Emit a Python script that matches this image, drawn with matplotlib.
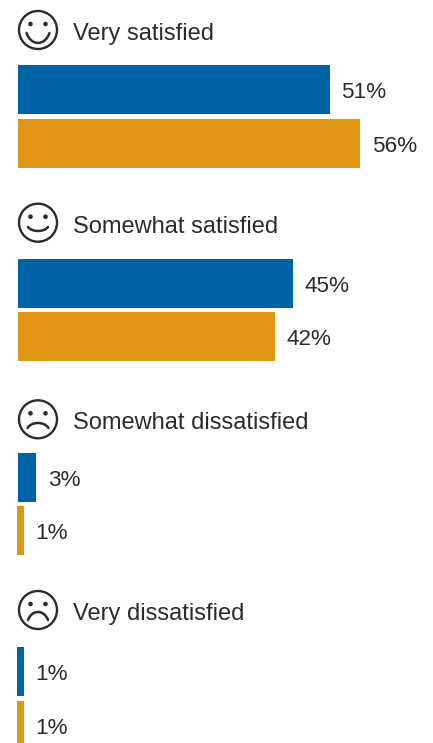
import matplotlib
matplotlib.use("Agg")
import matplotlib.pyplot as plt
from matplotlib.patches import Circle, PathPatch
from matplotlib.path import Path

# ===== DATA =====
categories = ["Very satisfied", "Somewhat satisfied", "Somewhat dissatisfied", "Very dissatisfied"]
series_blue = [51, 45, 3, 1]
series_orange = [56, 42, 1, 1]

BLUE = "#0063a6"
ORANGE = "#e09614"
INK = "#2b2b2b"
W, H = 433, 743
PX_PER_PCT = 6.11
X0 = 18

plt.rcParams["font.family"] = ["Liberation Sans", "DejaVu Sans"]

fig = plt.figure(figsize=(W / 100, H / 100), dpi=100)

# pixel axes for faces and headings
ax_px = fig.add_axes([0, 0, 1, 1])
ax_px.set_xlim(0, W)
ax_px.set_ylim(H, 0)
ax_px.axis("off")

# bar axes, x in percent
ax = fig.add_axes([0, 0, 1, 1], facecolor="none")
ax.set_xlim(-X0 / PX_PER_PCT, (W - X0) / PX_PER_PCT)
ax.set_ylim(H, 0)
ax.axis("off")

face_y = [30, 222.7, 419.3, 610]
text_y = [34, 227, 423, 614]
blue_top = [65, 259, 453, 647]
orange_top = [119, 312, 506, 701]
BAR_H = 49

# mouth shape per face: half width, y of the ends, y of the control points (px from face centre)
mouth_half = [11.5, 10, 10.5, 10]
mouth_end = [3, 4.3, 8.7, 10]
mouth_ctrl = [16.3, 9.6, 2, -0.7]


def draw_face(a, cx, cy, i):
    a.add_patch(Circle((cx, cy), 19, fill=False, ec=INK, lw=1.7))
    for dx in (-7.5, 7.5):
        a.add_patch(Circle((cx + dx, cy - 6), 2.3, fc=INK, ec="none"))
    hw = mouth_half[i]
    verts = [(cx - hw, cy + mouth_end[i]), (cx - 0.6 * hw, cy + mouth_ctrl[i]),
             (cx + 0.6 * hw, cy + mouth_ctrl[i]), (cx + hw, cy + mouth_end[i])]
    path = Path(verts, [Path.MOVETO, Path.CURVE4, Path.CURVE4, Path.CURVE4])
    a.add_patch(PathPatch(path, fc="none", ec=INK, lw=1.8, capstyle="round"))


def bar_label(v, top, color):
    # the 1% bars start a pixel left of the others
    shift = 1 / PX_PER_PCT if v == 1 else 0
    ax.barh(top + BAR_H / 2, v + shift, height=BAR_H, left=-shift, color=color, lw=0)
    ax.text(v + 11.5 / PX_PER_PCT, top + BAR_H / 2 + 3, f"{v}%", color=INK,
            fontsize=16.2, va="center", ha="left")


for i, cat in enumerate(categories):
    draw_face(ax_px, 38, face_y[i], i)
    ax_px.text(73, text_y[i], cat, color=INK, fontsize=17, va="center", ha="left")
    bar_label(series_blue[i], blue_top[i], BLUE)
    bar_label(series_orange[i], orange_top[i], ORANGE)

fig.savefig("out.png", dpi=100)
